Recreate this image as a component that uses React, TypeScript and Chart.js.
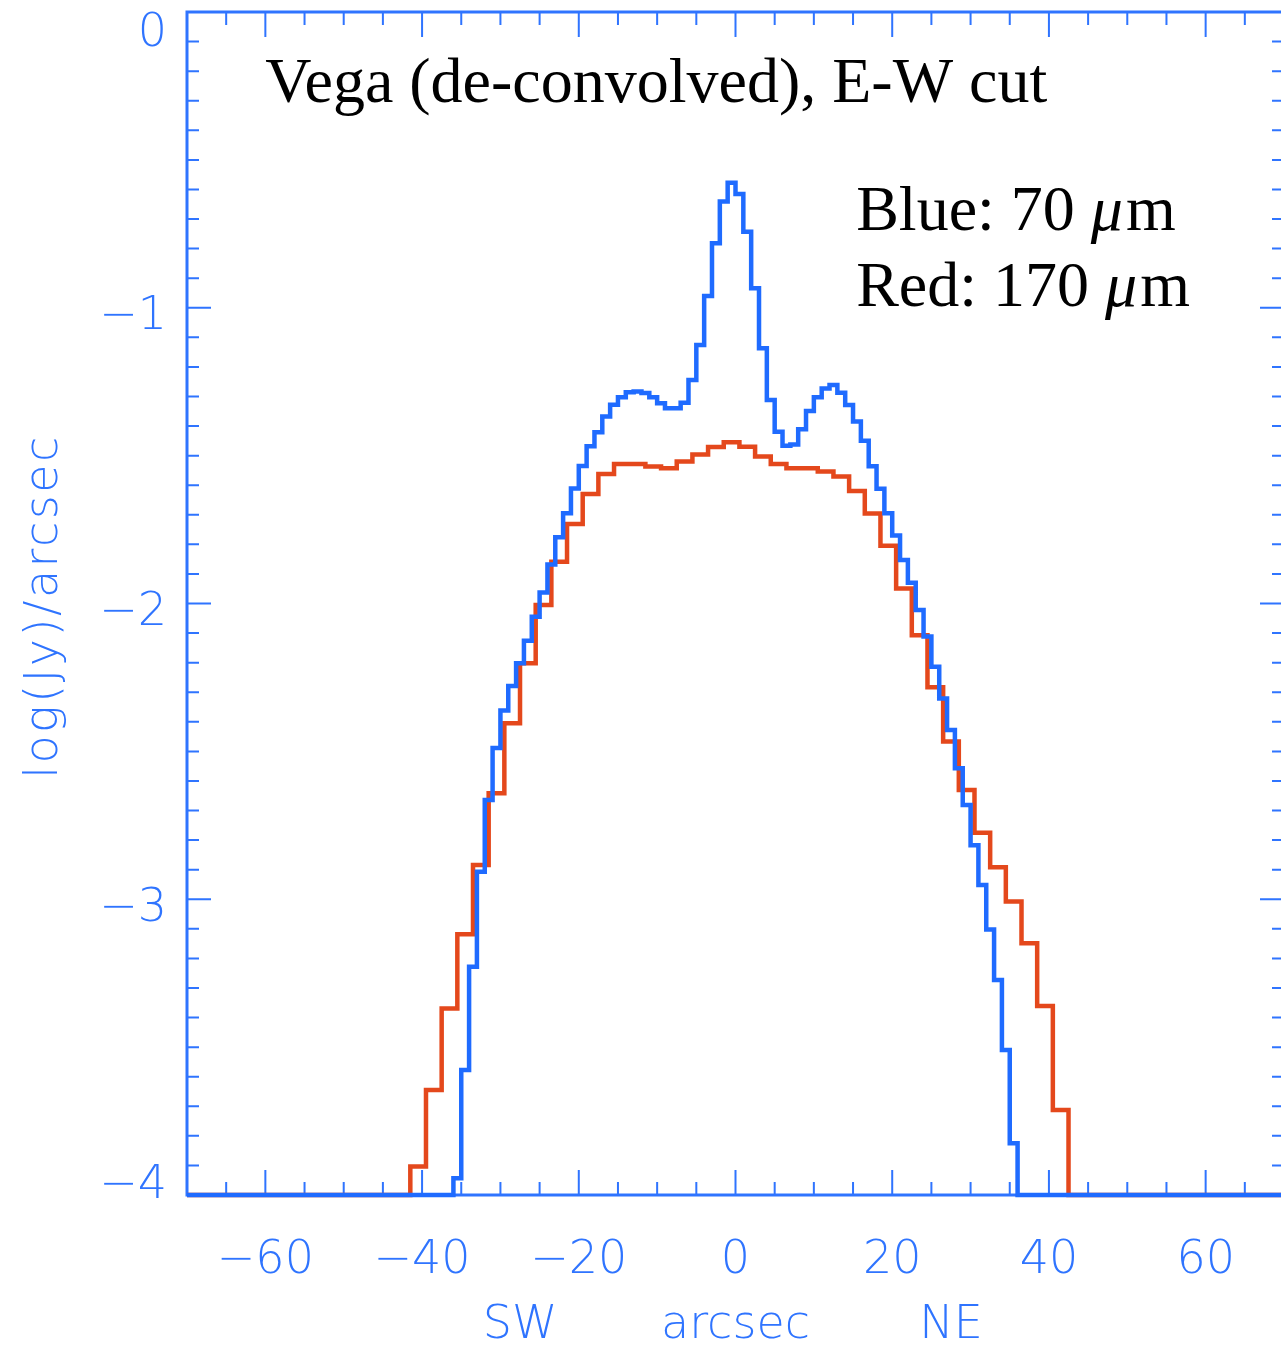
import { useEffect, useRef } from 'react';
import { Chart, registerables } from 'chart.js';

Chart.register(...registerables);

// ---- axis ranges and tick labels ----
const xRange = [-70, 70];
const yRange = [-4, 0];
const xTickLabels = [-60, -40, -20, 0, 20, 40, 60];
const yTickLabels = [0, -1, -2, -3, -4];
const xMinorStep = 5;
const yMinorStep = 0.1;
const xTitleParts = ['SW', 'arcsec', 'NE'];
const xTitleAt = [-27.5, 0, 27.5];
const yTitle = 'log(Jy)/arcsec';
const chartTitle = 'Vega (de-convolved), E-W cut';

// ---- 70 micron (blue) profile: 1" bins, left edge of first bin ----
const blueFirstEdge = -36;
const blueBinWidth = 1;
const blueValues = [
  -3.943, -3.577, -3.228, -2.907, -2.664, -2.489, -2.362, -2.279, -2.202, -2.126,
  -2.045, -1.963, -1.868, -1.776, -1.695, -1.611, -1.535, -1.468, -1.421, -1.368,
  -1.328, -1.303, -1.286, -1.283, -1.288, -1.303, -1.323, -1.340, -1.340, -1.321,
  -1.244, -1.126, -0.960, -0.782, -0.641, -0.577, -0.615, -0.743, -0.934, -1.137,
  -1.312, -1.419, -1.467, -1.462, -1.411, -1.349, -1.303, -1.273, -1.261, -1.287,
  -1.329, -1.385, -1.450, -1.536, -1.612, -1.695, -1.770, -1.853, -1.930, -2.022,
  -2.112, -2.214, -2.321, -2.428, -2.557, -2.681, -2.817, -2.952, -3.102, -3.273,
  -3.510, -3.825,
];

// ---- 170 micron (red) profile: 2" bins, left edge of first bin ----
const redFirstEdge = -41.5;
const redBinWidth = 2;
const redValues = [
  -3.904, -3.645, -3.369, -3.118, -2.884, -2.642, -2.405, -2.202, -2.005, -1.859,
  -1.731, -1.630, -1.562, -1.528, -1.528, -1.537, -1.543, -1.520, -1.496, -1.471,
  -1.455, -1.470, -1.503, -1.528, -1.543, -1.543, -1.554, -1.571, -1.620, -1.696,
  -1.805, -1.949, -2.107, -2.283, -2.467, -2.631, -2.775, -2.892, -3.008, -3.149,
  -3.361, -3.713,
];
const floorValue = -4;

const BLUE = '#1f6bff';
const RED = '#e4481c';
const AXIS = '#2f74ff';
const AXIS_FONT = '200 46px "DejaVu Sans", sans-serif';
const SERIF = '"Liberation Serif", "Times New Roman", serif';

function stepPoints(firstEdge: number, width: number, values: number[]) {
  const pts: { x: number; y: number }[] = [{ x: xRange[0], y: floorValue }];
  values.forEach((v, i) => pts.push({ x: firstEdge + i * width, y: v }));
  pts.push({ x: firstEdge + values.length * width, y: floorValue });
  pts.push({ x: xRange[1], y: floorValue });
  return pts;
}

const axesPlugin = {
  id: 'idlAxes',
  beforeDatasetsDraw(chart: any) {
    const { ctx, chartArea: a, scales } = chart;
    const xs = scales.x;
    const ys = scales.y;
    ctx.save();
    ctx.strokeStyle = AXIS;
    ctx.fillStyle = AXIS;
    ctx.lineWidth = 3;
    ctx.strokeRect(a.left, a.top, a.right - a.left, a.bottom - a.top);
    ctx.lineWidth = 2;
    ctx.beginPath();
    const nx = Math.round((xRange[1] - xRange[0]) / xMinorStep);
    for (let i = 0; i <= nx; i++) {
      const v = xRange[0] + i * xMinorStep;
      const major = xTickLabels.includes(v);
      const len = major ? 25 : 13;
      const px = xs.getPixelForValue(v);
      ctx.moveTo(px, a.bottom);
      ctx.lineTo(px, a.bottom - len);
      ctx.moveTo(px, a.top);
      ctx.lineTo(px, a.top + len);
    }
    const ny = Math.round((yRange[1] - yRange[0]) / yMinorStep);
    for (let i = 0; i <= ny; i++) {
      const v = yRange[0] + i * yMinorStep;
      const major = i % 10 === 0;
      const len = major ? 24 : 12;
      const py = ys.getPixelForValue(v);
      ctx.moveTo(a.left, py);
      ctx.lineTo(a.left + len, py);
      ctx.moveTo(a.right, py);
      ctx.lineTo(a.right - len, py);
    }
    ctx.stroke();

    ctx.font = AXIS_FONT;
    ctx.textAlign = 'center';
    ctx.textBaseline = 'alphabetic';
    xTickLabels.forEach((v) => {
      const t = v < 0 ? '\u2212' + Math.abs(v) : String(v);
      ctx.fillText(t, xs.getPixelForValue(v), a.bottom + 78);
    });
    ctx.textAlign = 'right';
    yTickLabels.forEach((v) => {
      const t = v < 0 ? '\u2212' + Math.abs(v) : String(v);
      const py = ys.getPixelForValue(v);
      const base = Math.min(Math.max(py + 21.5, a.top + 34), a.bottom + 3);
      ctx.fillText(t, a.left - 20, base);
    });
    ctx.textAlign = 'center';
    xTitleParts.forEach((t, i) => {
      ctx.fillText(t, xs.getPixelForValue(xTitleAt[i]), a.bottom + 143);
    });
    ctx.save();
    ctx.translate(57, (a.top + a.bottom) / 2 + 3);
    ctx.rotate(-Math.PI / 2);
    (ctx as any).letterSpacing = '2.5px';
    ctx.fillText(yTitle, 0, 0);
    ctx.restore();
    ctx.restore();
  },
  afterDatasetsDraw(chart: any) {
    const { ctx, scales } = chart;
    const xs = scales.x;
    const ys = scales.y;
    ctx.save();
    ctx.fillStyle = '#000';
    ctx.textAlign = 'left';
    ctx.textBaseline = 'alphabetic';
    ctx.font = `64px ${SERIF}`;
    ctx.fillText(chartTitle, xs.getPixelForValue(-60), ys.getPixelForValue(-0.304));
    const drawLegend = (prefix: string, yv: number) => {
      let x = xs.getPixelForValue(15.4);
      const y = ys.getPixelForValue(yv);
      ctx.font = `64px ${SERIF}`;
      ctx.fillText(prefix, x, y);
      x += ctx.measureText(prefix).width;
      ctx.font = `italic 64px ${SERIF}`;
      ctx.fillText('\u03bc', x, y);
      x += ctx.measureText('\u03bc').width + 3;
      ctx.font = `64px ${SERIF}`;
      ctx.fillText('m', x, y);
    };
    drawLegend('Blue: 70 ', -0.737);
    drawLegend('Red: 170 ', -0.993);
    ctx.restore();
  },
};

export default function App() {
  const ref = useRef<HTMLCanvasElement>(null);
  useEffect(() => {
    const canvas = ref.current;
    if (!canvas) return;
    const chart = new Chart(canvas, {
      type: 'line',
      data: {
        datasets: [
          {
            label: 'Blue: 70 \u03bcm',
            data: stepPoints(blueFirstEdge, blueBinWidth, blueValues),
            borderColor: BLUE,
            borderWidth: 4.5,
            stepped: 'before',
            pointRadius: 0,
            fill: false,
            clip: 4,
          } as any,
          {
            label: 'Red: 170 \u03bcm',
            data: stepPoints(redFirstEdge, redBinWidth, redValues),
            borderColor: RED,
            borderWidth: 4.5,
            stepped: 'before',
            pointRadius: 0,
            fill: false,
            clip: 4,
          } as any,
        ],
      },
      options: {
        responsive: false,
        animation: false,
        devicePixelRatio: 1,
        events: [],
        layout: { padding: { left: 187, top: 12, right: 16, bottom: 150 } },
        scales: {
          x: { type: 'linear', min: xRange[0], max: xRange[1], display: false },
          y: { type: 'linear', min: yRange[0], max: yRange[1], display: false },
        },
        elements: { line: { tension: 0, borderJoinStyle: 'miter', borderCapStyle: 'butt' } },
        plugins: { legend: { display: false }, tooltip: { enabled: false } },
      },
      plugins: [axesPlugin],
    });
    return () => chart.destroy();
  }, []);
  return (
    <div
      style={{
        position: 'absolute',
        left: 0,
        top: 0,
        width: 1281,
        height: 1345,
        overflow: 'hidden',
        background: '#ffffff',
      }}
    >
      <canvas ref={ref} width={1300} height={1345} style={{ display: 'block', width: 1300, height: 1345 }} />
    </div>
  );
}
